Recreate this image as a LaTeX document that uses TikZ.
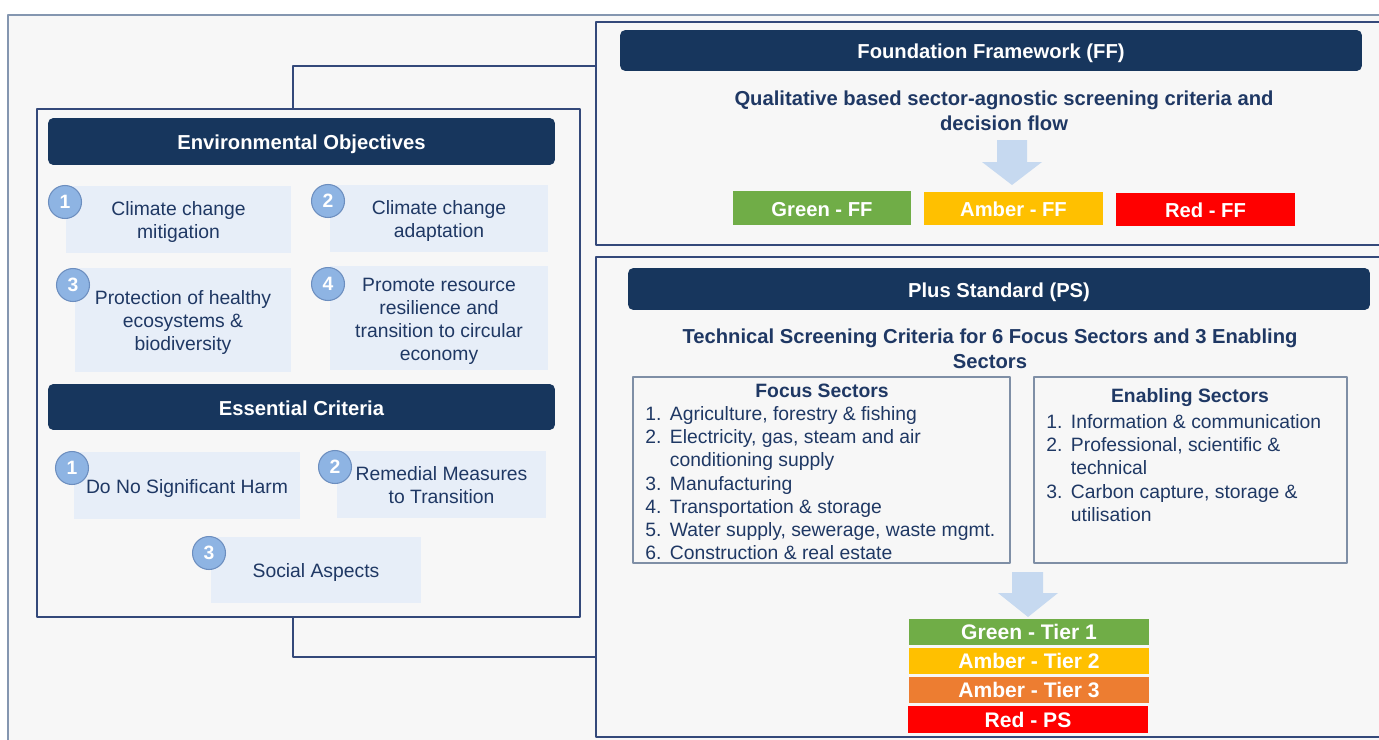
\documentclass[tikz,border=0pt]{standalone}
\usepackage{fontspec}
\setmainfont{Liberation Sans}
\usetikzlibrary{fit}
\definecolor{navy}{HTML}{17365D}
\definecolor{navytext}{HTML}{1F3864}
\definecolor{framegray}{HTML}{8496B0}
\definecolor{boxline}{HTML}{34497A}
\definecolor{sectline}{HTML}{7F8FA6}
\definecolor{paper}{HTML}{F7F7F7}
\definecolor{itemfill}{HTML}{E7EEF8}
\definecolor{badgefill}{HTML}{8EB4E3}
\definecolor{badgeline}{HTML}{6C8EBF}
\definecolor{arrowfill}{HTML}{C6D9F0}
\definecolor{tgreen}{HTML}{70AD47}
\definecolor{tamber}{HTML}{FFC000}
\definecolor{torange}{HTML}{ED7D31}
\definecolor{tred}{HTML}{FF0000}
\newcommand{\itemfont}{\fontsize{11}{13.2}\selectfont}
\newcommand{\headfont}{\fontsize{11.5}{14}\selectfont\bfseries}
% centred lines, set a little low in their box
\newcommand{\itemtext}[1]{\raisebox{-1.8pt}[\height][\depth]{\begin{tabular}{@{}c@{}}#1\end{tabular}}}

\begin{document}
\begin{tikzpicture}[x=0.02cm,y=-0.02cm,line join=round,
    panel/.style={draw=boxline,line width=0.8pt,inner sep=0pt},
    header/.style 2 args={fill=navy,rounded corners=3pt,text=white,font=\headfont,text height=9.5pt,text depth=0pt,minimum width=#1,minimum height=#2},
    item/.style 2 args={fill=itemfill,text=navytext,font=\itemfont,inner sep=0pt,minimum width=#1,minimum height=#2},
    badge/.style={circle,fill=badgefill,draw=badgeline,line width=0.6pt,text=white,font=\itemfont\bfseries,minimum size=0.66cm,inner sep=0pt},
    subtitle/.style={text=navytext,font=\headfont,align=center},
    verdict/.style 2 args={fill=#1,text=white,font=\headfont,text height=9.5pt,text depth=0pt,minimum width=#2,minimum height=0.68cm},
    tier/.style={fill=#1,text=white,font=\fontsize{12}{14}\selectfont\bfseries,minimum width=4.8cm,minimum height=0.52cm,inner sep=0pt},
    sector/.style={draw=sectline,line width=0.8pt,inner sep=0pt},
    list/.style={anchor=north west,inner sep=0pt,text=navytext,font=\itemfont}]
    \useasboundingbox (0,0) rectangle (1379,740);
    \fill[white] (0,0) rectangle (1379,740);

    % outer frame
    \node[fit={(8,15) (1400,760)},inner sep=0pt,fill=paper,draw=framegray,line width=1.2pt] (frame) {};

    % left side: objectives and criteria
    \node[panel,fit={(37,109) (580,617)}] (envbox) {};
    \node[header={10.14cm}{0.94cm}] (eohead) at (301.5,141.5) {Environmental Objectives};
    \node[item={4.5cm}{1.34cm}] (eo1) at (178.5,219.5) {\itemtext{Climate change\\mitigation}};
    \node[item={4.36cm}{1.34cm}] (eo2) at (439,218.5) {\itemtext{Climate change\\adaptation}};
    \node[item={4.32cm}{2.08cm}] (eo3) at (183,320) {\itemtext{Protection of healthy\\ecosystems \&\\biodiversity}};
    \node[item={4.36cm}{2.08cm}] (eo4) at (439,318) {\itemtext{Promote resource\\resilience and\\transition to circular\\economy}};
    \node[badge] (eo1n) at (65,202) {1};
    \node[badge] (eo2n) at (328,201) {2};
    \node[badge] (eo3n) at (73,285) {3};
    \node[badge] (eo4n) at (328,284) {4};

    \node[header={10.14cm}{0.92cm}] (echead) at (301.5,407) {Essential Criteria};
    \node[item={4.52cm}{1.34cm}] (ec1) at (187,485.5) {\itemtext{Do No Significant Harm}};
    \node[item={4.18cm}{1.34cm}] (ec2) at (441.5,484.5) {\itemtext{Remedial Measures\\to Transition}};
    \node[item={4.2cm}{1.32cm}] (ec3) at (316,570) {\itemtext{Social Aspects}};
    \node[badge] (ec1n) at (72,468) {1};
    \node[badge] (ec2n) at (335,467) {2};
    \node[badge] (ec3n) at (209,553) {3};

    % foundation framework
    \node[panel,fit={(596,22) (1400,245)}] (ffbox) {};
    \node[header={14.84cm}{0.82cm}] (ffhead) at (991,50.5) {Foundation Framework (FF)};
    \node[subtitle] (ffsub) at (1004,110.5) {Qualitative based sector-agnostic screening criteria and\\decision flow};
    \fill[arrowfill] (997,140) -- (1027,140) -- (1027,162) -- (1042,162) -- (1012,185) -- (982,162) -- (997,162) -- cycle;
    \node[verdict={tgreen}{3.56cm}] (ffgreen) at (822,208) {Green - FF};
    \node[verdict={tamber}{3.58cm}] (ffamber) at (1013.5,208.5) {Amber - FF};
    \node[verdict={tred}{3.58cm}] (ffred) at (1205.5,209.5) {Red - FF};

    % plus standard
    \node[panel,fit={(596,257) (1400,737)}] (psbox) {};
    \node[header={14.84cm}{0.84cm}] (pshead) at (999,289) {Plus Standard (PS)};
    \node[subtitle] (pssub) at (990,349) {Technical Screening Criteria for 6 Focus Sectors and 3 Enabling\\Sectors};

    \node[sector,fit={(633,377) (1010,563)}] (focusbox) {};
    \node[text=navytext,font=\itemfont\bfseries] (focushead) at (822,391) {Focus Sectors};
    \node[list] (focuslist) at (645,404) {\begin{tabular}{@{}p{14pt}@{}l@{}}
        1. & Agriculture, forestry \& fishing\\
        2. & Electricity, gas, steam and air\\
           & conditioning supply\\
        3. & Manufacturing\\
        4. & Transportation \& storage\\
        5. & Water supply, sewerage, waste mgmt.\\
        6. & Construction \& real estate
    \end{tabular}};

    \node[sector,fit={(1034,377) (1347,563)}] (enablebox) {};
    \node[text=navytext,font=\itemfont\bfseries] (enablehead) at (1190,398) {Enabling Sectors};
    \node[list] (enablelist) at (1046,412) {\begin{tabular}{@{}p{14pt}@{}l@{}}
        1. & Information \& communication\\
        2. & Professional, scientific \&\\
           & technical\\
        3. & Carbon capture, storage \&\\
           & utilisation
    \end{tabular}};

    \fill[arrowfill] (1012,572) -- (1043,572) -- (1043,593) -- (1058,593) -- (1028,617) -- (998,593) -- (1012,593) -- cycle;
    \node[tier=tgreen] (tier1) at (1029,632) {Green - Tier 1};
    \node[tier=tamber] (tier2) at (1029,661) {Amber - Tier 2};
    \node[tier=torange] (tier3) at (1029,690) {Amber - Tier 3};
    \node[tier=tred,minimum height=0.54cm] (tierred) at (1028,719.5) {Red - PS};

    % links from the left panel
    \coordinate (linktop) at (293,66);
    \coordinate (linkbot) at (293,657);
    \draw[boxline,line width=0.8pt] (envbox.north -| linktop) |- (ffbox.west |- linktop);
    \draw[boxline,line width=0.8pt] (envbox.south -| linkbot) |- (psbox.west |- linkbot);
\end{tikzpicture}
\end{document}
